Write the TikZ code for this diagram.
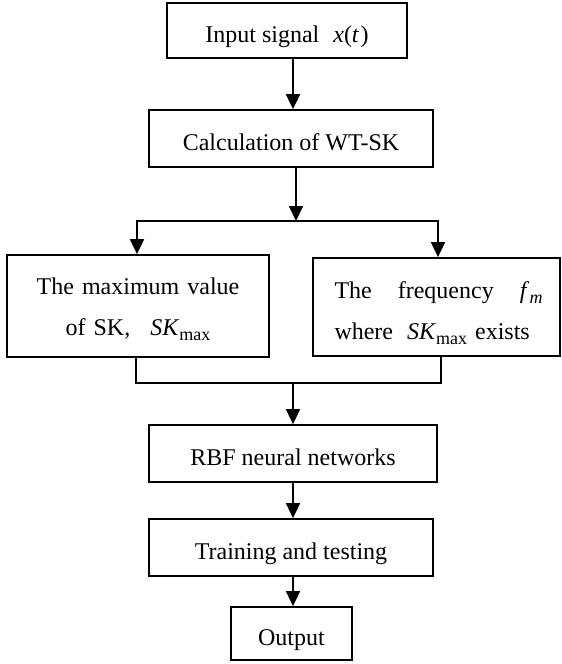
\documentclass[tikz,border=0pt]{standalone}
\usepackage{fontspec}
\setmainfont{Liberation Serif}
\usetikzlibrary{arrows.meta}

% lowered, smaller subscript text
\newcommand\subtxt[1]{\raisebox{-5pt}{\fontsize{18}{18}\selectfont #1}}
\newcommand\SKmax{\textit{SK}\subtxt{max}}
\newcommand\fm{\textit{f}\kern0.5pt\subtxt{\textit{m}}}

\begin{document}
\begin{tikzpicture}[x=1pt,y=-1pt,
  box/.style={draw, line width=1.8pt, inner sep=0pt,
              font=\fontsize{24}{41}\selectfont},
  onebox/.style={box, text height=24pt, text depth=0pt},
  twobox/.style={box, text height=24pt},
  arr/.style={line width=1.8pt, line join=miter,
              -{Triangle[length=15pt,width=14pt]}},
  link/.style={line width=1.8pt, line join=miter}]

\useasboundingbox (0,0) rectangle (562,664);

% boxes
\node[onebox, minimum width=240pt, minimum height=55pt] (inp) at (287,30.5)
  {Input signal\hspace{14pt}\textit{x}(\textit{t}\kern1.5pt)};
\node[onebox, minimum width=284pt, minimum height=57pt] (calc) at (291,138.5)
  {Calculation of WT-SK};
\node[twobox, text depth=48pt, align=center, text width=250pt,
      minimum width=262pt, minimum height=102pt] (maxv) at (138,306)
  {The maximum value\\of SK,\hspace{20pt}\SKmax};
\node[twobox, text depth=42pt, align=left, text width=204pt,
      minimum width=247pt, minimum height=98pt] (freq) at (436.5,307)
  {The\hspace*{26pt}frequency\hspace*{26pt}\fm\\where\hspace{14pt}\SKmax\hspace{8pt}exists};
\node[onebox, minimum width=288pt, minimum height=57pt] (rbf) at (293,453.5)
  {RBF neural networks};
\node[onebox, minimum width=284pt, minimum height=57pt] (train) at (291,547.5)
  {Training and testing};
\node[onebox, minimum width=121pt, minimum height=53pt] (out) at (291.5,633.5)
  {Output};

% connector coordinates
\coordinate (spine) at (293,0);
\coordinate (split) at (296,221);
\coordinate (sl) at (137,0);
\coordinate (sr) at (438,0);
\coordinate (bl) at (136,0);
\coordinate (br) at (441,0);
\coordinate (merge) at (293,383);

% connectors
\draw[arr] (inp.south -| spine) -- (calc.north -| spine);
\draw[arr] (calc.south -| split) -- (split);
\draw[arr] (split) -| (maxv.north -| sl);
\draw[arr] (split) -| (freq.north -| sr);
\draw[link] (maxv.south -| bl) |- (merge);
\draw[link] (freq.south -| br) |- (merge);
\draw[arr] (merge) -- (rbf.north -| merge);
\draw[arr] (rbf.south -| spine) -- (train.north -| spine);
\draw[arr] (train.south -| spine) -- (out.north -| spine);
\end{tikzpicture}
\end{document}
